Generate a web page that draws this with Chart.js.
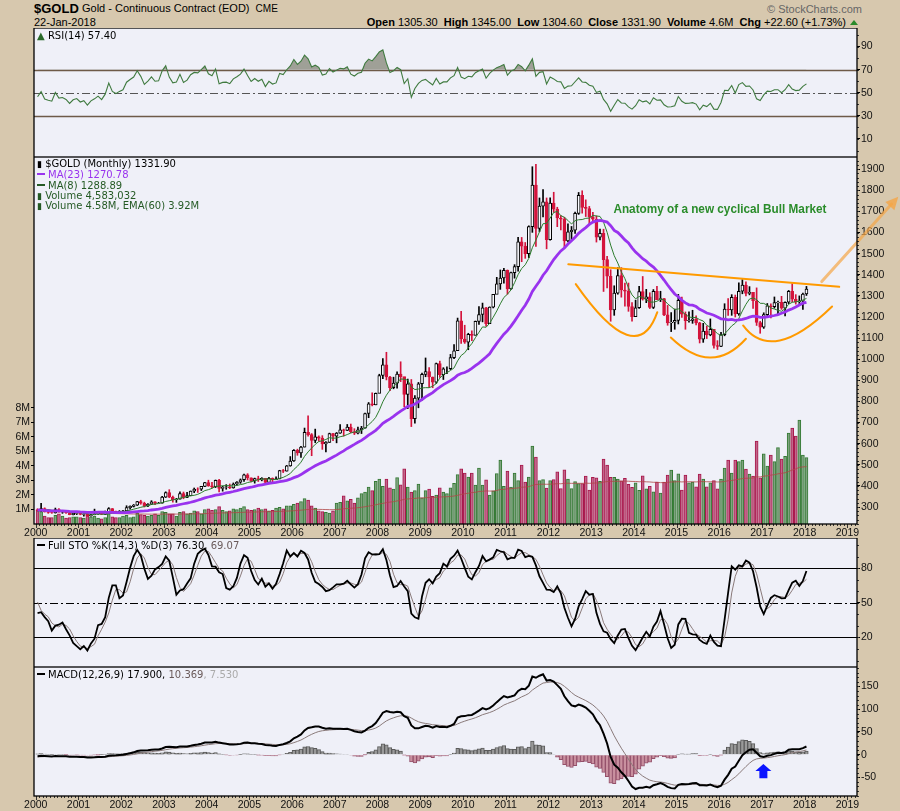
<!DOCTYPE html>
<html>
<head>
<meta charset="utf-8">
<script src="https://cdn.jsdelivr.net/npm/chart.js@4.4.1/dist/chart.umd.min.js"></script>
<style>
body{margin:0;background:#d7c8ae;width:900px;height:811px;overflow:hidden;position:relative;font-family:"Liberation Sans",Arial,sans-serif}
.pane{position:absolute;left:0;width:900px}
.txt{position:absolute;white-space:nowrap;z-index:3}
.lg{position:absolute;left:37px;white-space:nowrap;z-index:3;font:10px "DejaVu Sans",sans-serif;line-height:12px}
.dash{display:inline-block;width:8px;height:2px;vertical-align:3px;margin-right:3px}
</style>
</head>
<body>
<div class="txt" style="left:34px;top:1px;font:bold 13px 'Liberation Sans'">$GOLD</div>
<div class="txt" style="left:82px;top:2px;font:11px 'Liberation Sans'">Gold - Continuous Contract (EOD) <span style="font-size:10px;margin-left:3px">CME</span></div>
<div class="txt" style="left:34px;top:16px;font:11px 'Liberation Sans'">22-Jan-2018</div>
<div class="txt" style="left:767px;top:3px;font:11px 'Liberation Sans';color:#666">&copy; StockCharts.com</div>
<div class="txt" style="right:54px;top:16px;font:11px 'Liberation Sans'"><b>Open</b> 1305.30 &nbsp;<b>High</b> 1345.00 &nbsp;<b>Low</b> 1304.60 &nbsp;<b>Close</b> 1331.90 &nbsp;<b>Volume</b> 4.6M &nbsp;<b>Chg</b> +22.60 (+1.73%)</div>
<div class="txt" style="left:850px;top:20px;width:0;height:0;border-left:4px solid transparent;border-right:4px solid transparent;border-bottom:5px solid #2a8a2a"></div>

<div class="pane" style="top:28px;height:129px"><canvas id="rsi"></canvas></div>
<div class="pane" style="top:157px;height:381px"><canvas id="price"></canvas></div>
<div class="pane" style="top:538px;height:129px"><canvas id="sto"></canvas></div>
<div class="pane" style="top:667px;height:144px"><canvas id="macd"></canvas></div>

<div class="lg" style="top:30px"><span style="color:#2a6a2a">&#9650;</span> RSI(14) 57.40</div>
<div class="lg" style="top:158px;color:#000"><span style="font-size:9px">&#9646;</span> $GOLD (Monthly) 1331.90</div>
<div class="lg" style="top:169px;color:#9933ee"><span class="dash" style="background:#9933ee"></span>MA(23) 1270.78</div>
<div class="lg" style="top:180px;color:#255a25"><span class="dash" style="background:#255a25"></span>MA(8) 1288.89</div>
<div class="lg" style="top:190px;color:#255a25"><span style="font-size:9px">&#9646;</span> Volume 4,583,032</div>
<div class="lg" style="top:200px;color:#255a25"><span style="font-size:9px">&#9646;</span> Volume 4.58M, EMA(60) 3.92M</div>
<div class="lg" style="top:540px"><span class="dash" style="background:#000"></span>Full STO %K(14,3) %D(3) 76.30, <span style="color:#6a5a5a">69.07</span></div>
<div class="lg" style="top:669px"><span class="dash" style="background:#000"></span>MACD(12,26,9) 17.900, <span style="color:#6a5a5a">10.369</span><span style="color:#aaa">, 7.530</span></div>

<script>
// monthly gold prices, Jan 1998 .. Jan 2018 (1998-1999 only used to warm up the indicators)
const closes = [
  304,297,301,310,293,296,288,273,293,292,294,288,
  287,287,279,286,268,261,255,254,299,299,291,288,
  283,293,277,274,272,288,276,277,273,264,270,272,
  265,267,258,264,267,271,265,273,293,279,275,279,
  282,297,303,309,326,318,305,313,324,317,318,347,
  368,347,335,337,364,346,354,375,385,384,398,416,
  400,396,426,388,394,395,391,409,418,429,453,438,
  423,435,428,436,417,436,429,433,473,470,495,518,
  569,556,584,654,643,616,633,626,599,606,648,636,
  650,665,663,679,656,650,666,673,743,789,783,838,
  923,973,916,865,887,930,918,833,884,718,816,884,
  928,942,916,891,979,927,955,955,1008,1040,1182,1096,
  1081,1118,1113,1179,1212,1244,1169,1247,1307,1357,1385,1421,
  1333,1410,1439,1556,1536,1500,1628,1825,1620,1725,1746,1566,
  1740,1711,1669,1664,1560,1604,1611,1691,1776,1719,1714,1675,
  1663,1578,1596,1472,1393,1234,1313,1396,1328,1323,1250,1202,
  1244,1321,1284,1296,1246,1322,1282,1287,1210,1172,1175,1184,
  1279,1213,1183,1184,1190,1172,1095,1133,1115,1142,1065,1061,
  1116,1238,1234,1293,1215,1322,1351,1312,1317,1277,1174,1152,
  1211,1253,1249,1268,1269,1242,1270,1322,1284,1271,1275,1309,
  1331.9
];
const opens = [
  290,304,297,301,310,293,296,288,273,293,292,294,
  288,287,287,279,286,268,261,255,254,299,299,291,
  288,283,293,277,274,272,288,276,277,273,264,270,
  272,265,267,258,264,267,271,265,273,293,279,275,
  279,282,297,303,309,326,318,305,313,324,317,318,
  347,368,347,335,337,364,346,354,375,385,384,398,
  416,400,396,426,388,394,395,391,409,418,429,453,
  438,423,435,428,436,417,436,429,433,473,470,495,
  518,569,556,584,654,643,616,633,626,599,606,648,
  636,650,665,663,679,656,650,666,673,743,789,783,
  838,923,973,916,865,887,930,918,833,884,718,816,
  884,928,942,916,891,979,927,955,955,1008,1040,1182,
  1096,1081,1118,1113,1179,1212,1244,1169,1247,1307,1357,1385,
  1421,1333,1410,1439,1556,1536,1500,1628,1825,1620,1725,1746,
  1566,1740,1711,1669,1664,1560,1604,1611,1691,1776,1719,1714,
  1675,1663,1578,1596,1472,1393,1234,1313,1396,1328,1323,1250,
  1202,1244,1321,1284,1296,1246,1322,1282,1287,1210,1172,1175,
  1184,1279,1213,1183,1184,1190,1172,1095,1133,1115,1142,1065,
  1061,1116,1238,1234,1293,1215,1322,1351,1312,1317,1277,1174,
  1152,1211,1253,1249,1268,1269,1242,1270,1322,1284,1271,1275,
  1309
];
const highs = [
  307,306,303,316,311,296,297,291,300,303,300,297,
  293,294,291,292,290,268,263,265,304,338,300,294,
  292,318,296,287,280,295,293,280,278,276,272,276,
  272,268,270,265,290,276,272,281,297,293,281,283,
  284,306,306,312,327,332,323,316,330,326,322,350,
  372,382,352,341,372,371,369,376,390,391,398,417,
  427,417,428,431,399,406,409,414,420,433,456,458,
  438,437,446,439,436,441,438,443,474,478,497,539,
  572,574,587,674,732,648,669,637,638,610,650,649,
  653,691,669,691,693,671,679,682,745,795,841,840,
  929,1003,1033,919,915,940,988,915,906,904,828,890,
  935,1006,960,916,982,991,960,964,1023,1070,1195,1227,
  1161,1123,1135,1181,1249,1266,1246,1248,1307,1388,1423,1431,
  1423,1413,1448,1577,1577,1553,1632,1912,1923,1764,1804,1764,
  1764,1791,1720,1680,1672,1641,1629,1697,1790,1798,1755,1724,
  1696,1679,1617,1616,1488,1424,1348,1434,1434,1361,1361,1268,
  1280,1345,1392,1331,1315,1330,1345,1322,1288,1255,1221,1238,
  1307,1294,1224,1224,1232,1206,1175,1170,1157,1191,1142,1088,
  1128,1263,1287,1306,1304,1362,1377,1367,1344,1316,1338,1180,
  1220,1264,1262,1295,1275,1298,1272,1326,1358,1306,1300,1313,
  1345
];
const lows = [
  284,290,293,299,292,285,286,272,273,286,290,285,
  283,283,278,278,268,257,253,252,254,293,287,278,
  281,279,276,270,270,271,275,270,270,263,263,264,
  263,256,255,256,263,265,264,265,271,275,268,272,
  276,282,290,300,307,313,300,302,311,311,317,318,
  345,344,323,322,337,339,344,353,368,369,378,396,
  398,391,392,372,375,384,387,389,403,412,421,428,
  419,413,421,424,414,415,418,429,433,463,470,493,
  516,545,535,584,636,543,605,612,573,561,606,614,
  604,649,636,662,652,643,646,648,673,723,779,784,
  841,908,902,851,860,863,894,775,766,681,697,770,
  805,917,865,865,885,914,904,932,951,1003,1044,1075,
  1075,1045,1088,1115,1165,1177,1157,1175,1243,1315,1331,1360,
  1308,1331,1384,1417,1462,1478,1481,1601,1534,1604,1674,1523,
  1564,1696,1628,1613,1527,1556,1564,1596,1686,1692,1676,1636,
  1649,1555,1565,1321,1338,1180,1208,1308,1294,1251,1227,1180,
  1202,1241,1280,1268,1240,1240,1282,1273,1206,1161,1131,1142,
  1167,1198,1142,1175,1170,1162,1077,1080,1098,1111,1053,1046,
  1060,1111,1208,1208,1200,1208,1310,1300,1305,1241,1160,1123,
  1146,1207,1196,1242,1215,1236,1205,1263,1272,1261,1264,1236,
  1302
];
// volume in millions, Jan 2000 .. Jan 2018
const volumes = [
  0.95,0.85,0.55,0.45,0.45,0.6,0.7,0.55,0.4,0.45,0.5,0.5,
  0.45,0.4,0.6,0.5,0.55,0.4,0.35,0.45,0.7,0.5,0.45,0.45,
  0.55,0.6,0.45,0.5,0.75,0.65,0.6,0.55,0.6,0.7,0.6,0.85,
  0.8,0.7,0.7,0.55,0.8,0.85,0.7,0.75,0.9,0.85,0.7,1.0,
  1.05,0.95,1.0,1.2,0.95,0.85,0.9,1.05,1.0,1.1,1.2,1.0,
  0.95,1.0,1.1,1.0,1.05,0.9,0.95,1.1,1.15,1.05,1.25,1.25,
  1.35,1.45,1.55,1.75,1.65,1.25,1.1,0.9,0.85,0.8,0.75,0.9,
  1.45,1.5,1.95,1.6,1.7,1.45,1.8,2.1,2.2,2.55,2.3,2.95,
  3.1,2.6,3.1,2.5,2.4,3.2,2.7,3.8,2.55,2.2,2.3,2.75,
  1.8,2.3,2.4,1.9,2.0,2.5,2.2,2.1,2.5,2.8,3.4,3.8,
  3.51,3.24,3.51,2.68,3.86,2.68,3.05,2.00,2.29,3.47,4.40,2.60,
  3.64,2.55,3.51,2.99,4.06,2.89,3.24,5.37,4.62,3.00,3.06,2.48,
  2.99,3.06,3.60,2.44,3.74,3.09,2.44,2.92,2.78,2.78,3.31,2.33,
  3.21,3.18,2.94,4.47,4.06,3.21,3.21,3.09,2.97,3.15,2.74,2.52,
  2.83,2.32,3.32,2.42,2.60,2.22,2.89,2.13,2.89,3.38,3.72,2.99,
  3.45,2.33,3.38,2.83,2.89,2.57,3.44,3.09,2.57,2.83,3.00,2.42,
  3.09,3.85,4.40,3.51,4.40,4.30,4.40,3.79,3.44,3.31,5.71,3.19,
  4.83,3.99,4.75,4.30,5.26,4.47,4.67,6.26,6.61,6.06,7.16,4.75,
  4.58
];
const yearTicks = [2000,2001,2002,2003,2004,2005,2006,2007,2008,2009,2010,2011,2012,2013,2014,2015,2016,2017,2018,2019];
const priceTicks = [300,400,500,600,700,800,900,1000,1100,1200,1300,1400,1500,1600,1700,1800,1900];
const volTicks = [1,2,3,4,5,6,7,8];
const rsiTicks = [10,30,50,70,90];
const stoTicks = [20,50,80];
const macdTicks = [-50,0,50,100,150];

// hand-drawn notes on the price panel, in (month, price) units
const trendLine = [[149.6,1450],[225.7,1343]];
const cups = [
  [[151.7,1356],[166.0,1116],[174.6,1223]],
  [[178.4,1103],[189.4,1008],[199.5,1097]],
  [[198.7,1160],[209.0,1089],[223.7,1250]]
];
const breakoutArrow = [[220.8,1368],[242.3,1770]];
const noteText = 'Anatomy of a new cyclical Bull Market';
const notePos = [192.2,1710];
const macdArrow = [204.4,-20.5,-52];

const SKIP = 24; // Jan 2000 in the price arrays
const X_MIN = -0.5, X_MAX = 230.7;

// ---- indicators ----
function sma(a, n) {
  return a.map((v, i) => {
    if (i < n - 1) return null;
    let s = 0;
    for (let k = i - n + 1; k <= i; k++) { if (a[k] == null) return null; s += a[k]; }
    return s / n;
  });
}
function ema(a, n) {
  const k = 2 / (n + 1);
  let e = null;
  return a.map(v => {
    if (v == null) return null;
    e = e == null ? v : v * k + e * (1 - k);
    return e;
  });
}
function rsi(c, n) {
  const out = [null];
  let ag = 0, al = 0;
  for (let i = 1; i < c.length; i++) {
    const d = c[i] - c[i - 1], g = Math.max(d, 0), l = Math.max(-d, 0);
    if (i <= n) { ag += g / n; al += l / n; out.push(i < n ? null : 100 - 100 / (1 + ag / al)); }
    else { ag = (ag * (n - 1) + g) / n; al = (al * (n - 1) + l) / n; out.push(100 - 100 / (1 + ag / al)); }
  }
  return out;
}
const fastK = closes.map((c, i) => {
  if (i < 13) return null;
  const hh = Math.max(...highs.slice(i - 13, i + 1));
  const ll = Math.min(...lows.slice(i - 13, i + 1));
  return 100 * (c - ll) / (hh - ll);
});
const stoK = sma(fastK, 3);
const stoD = sma(stoK, 3);
const ema12 = ema(closes, 12), ema26 = ema(closes, 26);
const macd = closes.map((c, i) => ema12[i] - ema26[i]);
const signal = ema(macd, 9);
const hist = macd.map((m, i) => m - signal[i]);
const rsiVals = rsi(closes, 14);
const ma23 = sma(closes, 23), ma8 = sma(closes, 8);
const volEma = ema(volumes, 60);

const pts = arr => arr.slice(SKIP).map((v, k) => ({x: k + 0.5, y: v}));

// ---- shared pieces ----
Chart.defaults.font.family = "'Liberation Sans', Arial, sans-serif";
Chart.defaults.animation = false;
Chart.defaults.plugins.legend.display = false;
Chart.defaults.plugins.tooltip.enabled = false;

const deco = {
  id: 'deco',
  beforeDraw(c, args, o) {
    const a = c.chartArea, g = c.ctx, y = c.scales[o.yId];
    g.save();
    g.fillStyle = '#eff0f8';
    g.fillRect(a.left, a.top, a.right - a.left, a.bottom - a.top);
    (o.lines || []).forEach(l => {
      const py = Math.round(y.getPixelForValue(l.v)) + 0.5;
      g.beginPath(); g.strokeStyle = l.color; g.lineWidth = l.width; g.setLineDash(l.dash || []);
      g.moveTo(a.left, py); g.lineTo(a.right, py); g.stroke();
    });
    g.restore();
  },
  afterDraw(c, args, o) {
    const a = c.chartArea, g = c.ctx, y = c.scales[o.yId];
    g.save();
    g.strokeStyle = '#333'; g.lineWidth = 1;
    if (o.minor) {
      for (let v = Math.ceil(y.min / o.minor) * o.minor; v <= y.max; v += o.minor) {
        const py = Math.round(y.getPixelForValue(v)) + 0.5;
        g.beginPath(); g.moveTo(a.right, py); g.lineTo(a.right + 2, py); g.stroke();
      }
    }
    if (o.months) {
      const x = c.scales.x;
      for (let m = 0; m <= 230; m++) {
        const px = Math.round(x.getPixelForValue(m)) + 0.5;
        g.beginPath(); g.moveTo(px, a.bottom); g.lineTo(px, a.bottom + (m % 12 ? 2 : 4)); g.stroke();
      }
    }
    g.strokeStyle = '#000'; g.lineWidth = 1.3;
    g.strokeRect(a.left, a.top, a.right - a.left, a.bottom - a.top);
    g.restore();
  }
};

const notes = {
  id: 'notes',
  afterDatasetsDraw(c, args, o) {
    const x = c.scales.x, y = c.scales[o.yId], g = c.ctx;
    const P = p => [x.getPixelForValue(p[0]), y.getPixelForValue(p[1])];
    g.save();
    if (o.kind === 'price') {
      g.strokeStyle = '#ff9a00'; g.lineWidth = 2; g.lineCap = 'round';
      const t0 = P(trendLine[0]), t1 = P(trendLine[1]);
      g.beginPath(); g.moveTo(t0[0], t0[1]); g.lineTo(t1[0], t1[1]); g.stroke();
      cups.forEach(cup => {
        const [s, m, e] = cup.map(P);
        const cx = 2 * m[0] - (s[0] + e[0]) / 2, cy = 2 * m[1] - (s[1] + e[1]) / 2;
        g.beginPath(); g.moveTo(s[0], s[1]); g.quadraticCurveTo(cx, cy, e[0], e[1]); g.stroke();
      });
      const a0 = P(breakoutArrow[0]), a1 = P(breakoutArrow[1]);
      const ang = Math.atan2(a1[1] - a0[1], a1[0] - a0[0]);
      g.strokeStyle = 'rgba(245,165,70,0.7)'; g.fillStyle = 'rgba(245,165,70,0.8)'; g.lineWidth = 3;
      const bx = a1[0] - 10 * Math.cos(ang), by = a1[1] - 10 * Math.sin(ang);
      g.beginPath(); g.moveTo(a0[0], a0[1]); g.lineTo(bx, by); g.stroke();
      g.beginPath();
      g.moveTo(a1[0], a1[1]);
      g.lineTo(a1[0] - 14 * Math.cos(ang - 0.45), a1[1] - 14 * Math.sin(ang - 0.45));
      g.lineTo(a1[0] - 14 * Math.cos(ang + 0.45), a1[1] - 14 * Math.sin(ang + 0.45));
      g.closePath(); g.fill();
      // condensed bold caption, squeezed to the width it has in the picture
      g.fillStyle = '#2a8c2a';
      g.font = "bold 13px 'Liberation Sans'";
      g.textAlign = 'center'; g.textBaseline = 'middle';
      const tp = P(notePos);
      const sx = Math.min(1, 213 / g.measureText(noteText).width);
      g.translate(tp[0], tp[1]); g.scale(sx, 1);
      g.fillText(noteText, 0, 0);
    } else if (o.kind === 'macd') {
      const px = x.getPixelForValue(macdArrow[0]);
      const tip = y.getPixelForValue(macdArrow[1]), base = y.getPixelForValue(macdArrow[2]);
      const mid = (tip + base) / 2;
      g.fillStyle = '#0a14ff';
      g.beginPath();
      g.moveTo(px, tip); g.lineTo(px + 8, mid); g.lineTo(px + 4, mid); g.lineTo(px + 4, base);
      g.lineTo(px - 4, base); g.lineTo(px - 4, mid); g.lineTo(px - 8, mid); g.closePath(); g.fill();
    }
    g.restore();
  }
};

function xScale(show, h) {
  return {
    type: 'linear', min: X_MIN, max: X_MAX, offset: false, display: show,
    grid: {display: false, drawTicks: false}, border: {display: false},
    ticks: {autoSkip: false, maxRotation: 0, padding: 3, color: '#111', font: {size: 10.5}, callback: v => String(2000 + v / 12)},
    afterBuildTicks: s => { s.ticks = yearTicks.map(yr => ({value: (yr - 2000) * 12})); },
    afterFit: s => { s.height = h; s.paddingLeft = 0; s.paddingRight = 0; }
  };
}
function yScale(pos, min, max, ticks, width, fmt) {
  return {
    type: 'linear', position: pos, min, max,
    grid: {drawOnChartArea: false, drawTicks: true, tickLength: 3, color: '#000'}, border: {display: false},
    ticks: {padding: 1, color: '#111', font: {size: 10.5}, callback: fmt || (v => String(v))},
    afterBuildTicks: s => { s.ticks = ticks.map(v => ({value: v})); },
    afterFit: s => { s.width = width; s.paddingTop = 0; s.paddingBottom = 0; }
  };
}
const baseOpts = (extra) => Object.assign({
  responsive: true, maintainAspectRatio: false,
  layout: {padding: {left: 34, right: 0, top: 0, bottom: 0}},
  elements: {point: {radius: 0}}
}, extra);

// ---- RSI ----
new Chart(document.getElementById('rsi'), {
  type: 'line',
  data: {datasets: [{
    data: pts(rsiVals), borderColor: '#3f7a3f', borderWidth: 1.1, tension: 0,
    fill: {target: {value: 70}, above: 'rgba(125,125,110,0.7)', below: 'rgba(0,0,0,0)'}
  }]},
  options: baseOpts({
    scales: {x: xScale(false, 0), y: yScale('right', -5.6, 106.1, rsiTicks, 43)},
    plugins: {deco: {yId: 'y', minor: 10, lines: [
      {v: 70, color: '#6e5a48', width: 1.3}, {v: 30, color: '#6e5a48', width: 1.3},
      {v: 50, color: '#555', width: 1, dash: [8, 3, 2, 3]}]}, notes: {yId: 'y'}}
  }),
  plugins: [deco]
});

// ---- price + volume ----
const shownC = closes.slice(SKIP), shownO = opens.slice(SKIP), shownH = highs.slice(SKIP), shownL = lows.slice(SKIP);
const prevC = closes.slice(SKIP - 1);
const upDay = shownC.map((c, k) => c >= prevC[k]);
const candleCol = upDay.map(u => u ? '#000000' : '#d4143c');
const bodyFill = shownC.map((c, k) => c > shownO[k] ? '#fafaff' : candleCol[k]);

new Chart(document.getElementById('price'), {
  type: 'bar',
  data: {datasets: [
    {type: 'line', data: pts(ma23), borderColor: '#9933ee', borderWidth: 2.8, yAxisID: 'price', order: 0},
    {type: 'line', data: pts(ma8), borderColor: '#2e7d2e', borderWidth: 1, yAxisID: 'price', order: 0},
    {data: shownO.map((o, k) => ({x: k + 0.5, y: [o, shownC[k]]})), yAxisID: 'price', order: 1, grouped: false,
      barThickness: 3, backgroundColor: bodyFill, borderColor: candleCol, borderWidth: 1, borderSkipped: false},
    {data: shownL.map((l, k) => ({x: k + 0.5, y: [l, shownH[k]]})), yAxisID: 'price', order: 2, grouped: false,
      barThickness: 1, backgroundColor: candleCol, borderWidth: 0},
    {type: 'line', data: volEma.map((v, k) => ({x: k + 0.5, y: v})), borderColor: 'rgba(175,70,70,0.8)', borderWidth: 1, yAxisID: 'vol', order: 3},
    {data: volumes.map((v, k) => ({x: k + 0.5, y: v})), yAxisID: 'vol', order: 4, grouped: false, barThickness: 3,
      backgroundColor: upDay.map(u => u ? '#7fa27f' : '#c2668a'),
      borderColor: upDay.map(u => u ? '#347a34' : '#a8184c'),
      borderWidth: {top: 1, left: 1, right: 1, bottom: 0}}
  ]},
  options: baseOpts({
    layout: {padding: {left: 0, right: 0, top: 0, bottom: 0}},
    scales: {
      x: xScale(true, 14),
      price: yScale('right', 219.5, 1958, priceTicks, 43),
      vol: yScale('left', 0, 25.3, volTicks, 34, v => v + 'M')
    },
    plugins: {deco: {yId: 'price', minor: 20, months: true}, notes: {yId: 'price', kind: 'price'}}
  }),
  plugins: [deco, notes]
});

// ---- Full stochastics ----
new Chart(document.getElementById('sto'), {
  type: 'line',
  data: {datasets: [
    {data: pts(stoK), borderColor: '#000', borderWidth: 1.8, order: 0},
    {data: pts(stoD), borderColor: '#8a7a7a', borderWidth: 1, order: 1}
  ]},
  options: baseOpts({
    scales: {x: xScale(false, 0), y: yScale('right', -5.6, 106.1, stoTicks, 43)},
    plugins: {deco: {yId: 'y', minor: 10, lines: [
      {v: 80, color: '#000', width: 1.2}, {v: 20, color: '#000', width: 1.2},
      {v: 50, color: '#000', width: 1, dash: [8, 3, 2, 3]}]}, notes: {yId: 'y'}}
  }),
  plugins: [deco]
});

// ---- MACD ----
const histShown = hist.slice(SKIP);
new Chart(document.getElementById('macd'), {
  type: 'bar',
  data: {datasets: [
    {type: 'line', data: pts(macd), borderColor: '#000', borderWidth: 2, order: 0},
    {type: 'line', data: pts(signal), borderColor: '#8a7a7a', borderWidth: 1, order: 1},
    {data: histShown.map((h, k) => ({x: k + 0.5, y: h})), order: 2, grouped: false, barThickness: 3.6,
      backgroundColor: histShown.map(h => h >= 0 ? '#9a9a9a' : '#c9909f'),
      borderColor: histShown.map(h => h >= 0 ? '#5a5a5a' : '#94506a'), borderWidth: 1}
  ]},
  options: baseOpts({
    scales: {x: xScale(true, 15), y: yScale('right', -91, 192.8, macdTicks, 43)},
    plugins: {deco: {yId: 'y', minor: 10, months: true}, notes: {yId: 'y', kind: 'macd'}}
  }),
  plugins: [deco, notes]
});
</script>
</body>
</html>
